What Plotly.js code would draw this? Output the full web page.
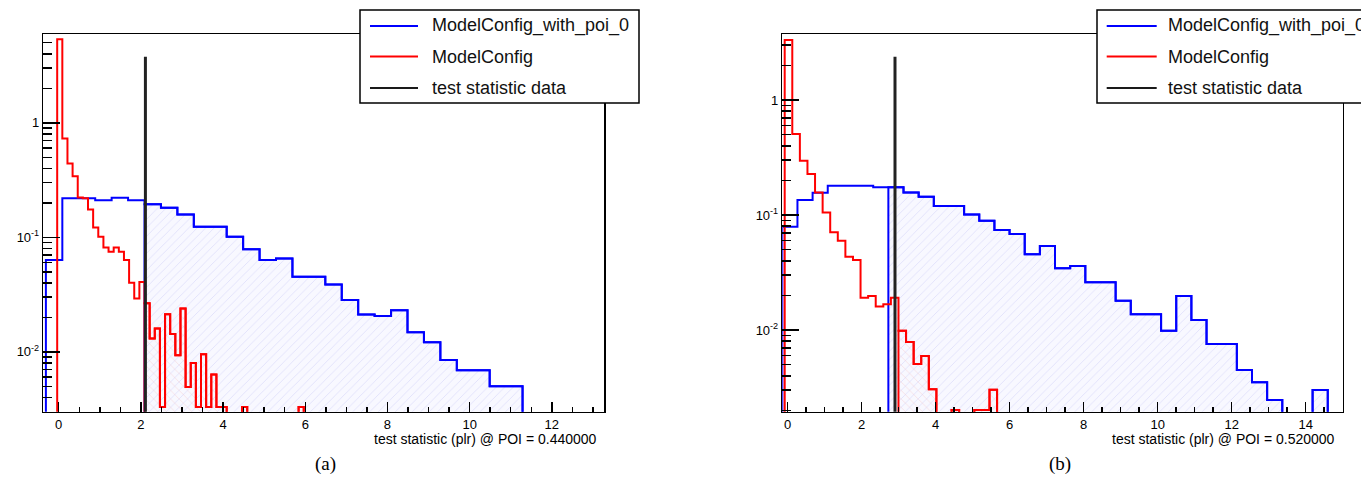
<!DOCTYPE html>
<html><head><meta charset="utf-8">
<script src="https://cdn.plot.ly/plotly-3.0.1.min.js"></script>
<style>html,body{margin:0;padding:0;background:#fff}#chart{width:1361px;height:502px}</style>
</head><body><div id="chart"></div>
<script>
// ---------- Panel (a): POI = 0.44 ----------
const blueA_start = -0.312, blueA_width = 0.4;
const blueA = [0.0632,0.219,0.219,0.211,0.221,0.211,0.194,0.181,0.158,0.1236,0.1236,0.101,0.0788,0.0632,0.0654,0.0452,0.0452,0.0388,0.0283,0.0212,0.0205,0.0231,0.0148,0.0121,0.00847,0.00692,0.00692,0.00501,0.00501];
const redA_start = -0.037, redA_width = 0.125;
const redA = [5.35,0.73,0.44,0.342,0.223,0.219,0.175,0.122,0.101,0.0816,0.0747,0.0816,0.0747,0.0632,0.0401,0.0292,0.0408,
  0.0265,0.0131,0.016,0.0033,0.0213,0.0143,0.00935,0.0239,0.00493,0.008,0.0033,0.0095,0.0033,0.00634,0.0033,0.0033,
  0,0,0,0.0033,0,0,0,0,0,0,0,0,0,0,0.0033];
const dataA = 2.11, dataTopA = 3.77;
const shadeBlueFromA = 6, shadeRedFromA = 17;
const titleA = "test statistic (plr) @ POI = 0.440000";

// ---------- Panel (b): POI = 0.52 ----------
const blueB_start = -0.146, blueB_width = 0.4095;
const blueB = [0.0792,0.135,0.156,0.180,0.180,0.180,0.174,0.174,0.157,0.144,0.120,0.120,0.101,0.0893,0.0741,0.0684,0.0455,0.0537,0.0344,0.036,0.026,0.026,0.018,0.0137,0.0137,0.00987,0.0198,0.0122,0.00755,0.00755,0.00449,0.00351,0.00246,0,0,0.00301,0];
const redB_start = -0.081, redB_width = 0.205;
const redB = [3.32,0.506,0.297,0.227,0.157,0.105,0.0707,0.0598,0.0434,0.0406,0.0191,0.0198,0.0160,0.0168,0.0191,0.00987,0.00787,0.00506,0.00594,0.00305,0,0,0.00202,0,0,0.00202,0.00202,0.00302];
const dataB = 2.90, dataTopB = 2.38;
const shadeBlueFromB = 7, shadeRedFromB = 15;
const titleB = "test statistic (plr) @ POI = 0.520000";

const legendNames = ["ModelConfig_with_poi_0", "ModelConfig", "test statistic data"];
const legendColors = ["#0000ff", "#ff0000", "#1a1a1a"];
const captions = ["(a)", "(b)"];

const FLOOR = 1e-6;
function step(start, width, vals, from) {
  const x = [], y = [];
  x.push(start + width * from); y.push(FLOOR);
  for (let i = from; i < vals.length; i++) {
    x.push(start + width * i); y.push(vals[i] > 0 ? vals[i] : FLOOR);
  }
  const end = start + width * vals.length;
  x.push(end); y.push(vals[vals.length-1] > 0 ? vals[vals.length-1] : FLOOR);
  x.push(end); y.push(FLOOR);
  return {x, y};
}

const W = 1361, H = 502;
const px = X => X / W, py = Y => 1 - Y / H;

function panelTraces(xa, ya, bs, bw, bv, rs, rw, rv, sbf, srf, dv, dt) {
  const t = [];
  const sb = step(bs, bw, bv, sbf);
  t.push({type:'scatter', mode:'lines', x:sb.x, y:sb.y, xaxis:xa, yaxis:ya, line:{shape:'hv', color:'#0000ff', width:2},
    fill:'toself', fillcolor:'rgba(0,0,0,0)',
    fillpattern:{shape:'/', fgcolor:'rgba(185,185,245,0.45)', bgcolor:'rgba(248,248,255,1)', size:6, solidity:0.12},
    showlegend:false, hoverinfo:'skip'});
  const sr = step(rs, rw, rv, srf);
  t.push({type:'scatter', mode:'lines', x:sr.x, y:sr.y, xaxis:xa, yaxis:ya, line:{shape:'hv', color:'#ff0000', width:2},
    fill:'toself', fillcolor:'rgba(0,0,0,0)',
    fillpattern:{shape:'\\', fgcolor:'rgba(245,185,185,0.45)', bgcolor:'rgba(255,255,255,0)', size:6, solidity:0.12},
    showlegend:false, hoverinfo:'skip'});
  const b = step(bs, bw, bv, 0);
  t.push({type:'scatter', mode:'lines', x:b.x, y:b.y, xaxis:xa, yaxis:ya, line:{shape:'hv', color:'#0000ff', width:2}, showlegend:false});
  const r = step(rs, rw, rv, 0);
  t.push({type:'scatter', mode:'lines', x:r.x, y:r.y, xaxis:xa, yaxis:ya, line:{shape:'hv', color:'#ff0000', width:2}, showlegend:false});
  t.push({type:'scatter', mode:'lines', x:[dv, dv], y:[FLOOR, dt], xaxis:xa, yaxis:ya, line:{color:'#222', width:3}, showlegend:false});
  return t;
}

const traces = [
  ...panelTraces('x', 'y', blueA_start, blueA_width, blueA, redA_start, redA_width, redA, shadeBlueFromA, shadeRedFromA, dataA, dataTopA),
  ...panelTraces('x2', 'y2', blueB_start, blueB_width, blueB, redB_start, redB_width, redB, shadeBlueFromB, shadeRedFromB, dataB, dataTopB)
];

function minorLog(lo, hi) {
  const v = [];
  for (let e = -4; e <= 1; e++) for (let m = 2; m <= 9; m++) {
    const val = m * Math.pow(10, e);
    if (val >= lo && val <= hi) v.push(val);
  }
  return v;
}

const tickFont = {family:'Liberation Sans, Arial, sans-serif', size:13, color:'#000'};
function xaxis(domain, range, anchor) {
  return {domain, range, anchor, showgrid:false, zeroline:false, showline:true, mirror:true, linecolor:'#000', linewidth:1.5,
    ticks:'inside', ticklen:10, tickwidth:1.5, tickcolor:'#000', dtick:2, tick0:0, tickfont:tickFont, automargin:false,
    minor:{ticks:'inside', ticklen:5, tickwidth:1.5, tickcolor:'#000', dtick:0.5, tick0:0, showgrid:false}};
}
function yaxis(domain, lo, hi, anchor) {
  return {domain, type:'log', range:[Math.log10(lo), Math.log10(hi)], anchor, showgrid:false, zeroline:false,
    showline:true, mirror:true, linecolor:'#000', linewidth:1.5,
    ticks:'inside', ticklen:17, tickwidth:1.5, tickcolor:'#000', tickmode:'array',
    tickvals:[0.01, 0.1, 1], ticktext:['10<sup>-2</sup>', '10<sup>-1</sup>', '1'], tickfont:tickFont, automargin:false,
    minor:{ticks:'inside', ticklen:9, tickwidth:1.5, tickcolor:'#000', tickmode:'array', tickvals:minorLog(lo, hi), showgrid:false}};
}

const yDom = [py(411.7), py(34)];
const layout = {
  width:W, height:H, autosize:false, margin:{l:0, r:0, t:0, b:0},
  paper_bgcolor:'#fff', plot_bgcolor:'#fff', showlegend:false,
  xaxis: xaxis([px(43.3), px(604)], [-0.375, 13.27], 'y'),
  yaxis: yaxis(yDom, 0.003, 5.96, 'x'),
  xaxis2: xaxis([px(782.3), px(1342.7)], [-0.146, 15.0], 'y2'),
  yaxis2: yaxis(yDom, 0.00195, 3.75, 'x2'),
  shapes: [], annotations: []
};

// Legends (drawn as boxes with sample lines and text)
const legendBoxes = [{x0:360, x1:639, lx0:370, lx1:418, tx:429.5}, {x0:1097, x1:1400, lx0:1106.7, lx1:1156.7, tx:1166}];
const rowsY = [26, 56.5, 88];
legendBoxes.forEach(lb => {
  layout.shapes.push({type:'rect', xref:'paper', yref:'paper', x0:px(lb.x0), x1:px(lb.x1), y0:py(103), y1:py(10),
    fillcolor:'#fff', line:{color:'#000', width:1.5}, layer:'above'});
  legendNames.forEach((n, i) => {
    layout.shapes.push({type:'line', xref:'paper', yref:'paper', x0:px(lb.lx0), x1:px(lb.lx1), y0:py(rowsY[i]), y1:py(rowsY[i]),
      line:{color:legendColors[i], width:2}, layer:'above'});
    layout.annotations.push({xref:'paper', yref:'paper', x:px(lb.tx), y:py(rowsY[i]), xanchor:'left', yanchor:'middle',
      text:n, showarrow:false, font:{family:'Liberation Sans, Arial, sans-serif', size:18, color:'#111'}});
  });
});

// Axis titles (right-aligned, as in ROOT)
[[titleA, 598.5], [titleB, 1336.5]].forEach(([t, X]) => {
  layout.annotations.push({xref:'paper', yref:'paper', x:px(X), y:py(438.5), xanchor:'right', yanchor:'middle',
    text:t, showarrow:false, font:{family:'Liberation Sans, Arial, sans-serif', size:14, color:'#000'}});
});
// Captions
[[captions[0], 325], [captions[1], 1060]].forEach(([t, X]) => {
  layout.annotations.push({xref:'paper', yref:'paper', x:px(X), y:py(464), xanchor:'center', yanchor:'middle',
    text:t, showarrow:false, font:{family:'Liberation Serif, Times New Roman, serif', size:19, color:'#000'}});
});

Plotly.newPlot('chart', traces, layout, {staticPlot:true, displayModeBar:false});
</script>
</body></html>
